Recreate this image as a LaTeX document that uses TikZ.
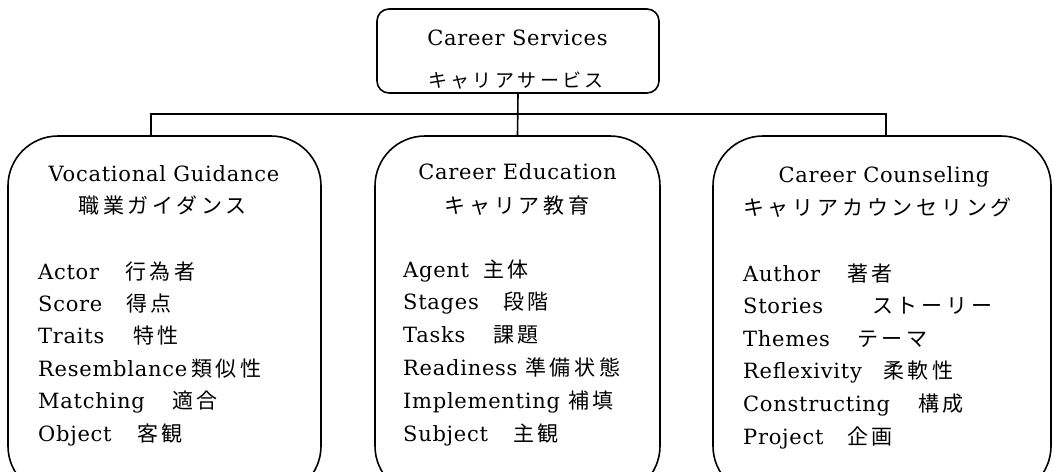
\documentclass[tikz,border=0pt]{standalone}
\usepackage{fontspec}
\setmainfont{DejaVu Serif}[LetterSpace=3.5]
\newfontfamily\jp{Noto Sans CJK JP}[LetterSpace=18]
\tikzset{
  box/.style={draw, line width=1.6pt, rounded corners=#1, inner sep=0pt},
  conn/.style={line width=1.6pt},
  eng/.style={anchor=base west, inner sep=0pt, font=\fontsize{21}{25}\selectfont},
  jpn/.style={anchor=base west, inner sep=0pt, font=\jp\fontsize{21}{25}\selectfont},
  ttl/.style={anchor=base, inner sep=0pt, font=\fontsize{21}{25}\selectfont},
  jttl/.style={anchor=base, inner sep=0pt, font=\jp\fontsize{21}{25}\selectfont},
}
\begin{document}
\begin{tikzpicture}[x=1pt,y=-1pt]
\useasboundingbox (0,0) rectangle (1054,471);
\clip (0,0) rectangle (1054,471);
% boxes
\node[box=12pt, minimum width=282pt, minimum height=84pt] (top) at (518,51) {};
\node[box=50pt, minimum width=313pt, minimum height=360pt] (L) at (164.5,316) {};
\node[box=50pt, minimum width=285pt, minimum height=360pt] (M) at (517.5,316) {};
\node[box=50pt, minimum width=338pt, minimum height=360pt] (R) at (882,316) {};
% connectors
\coordinate (bus) at (518,114);
\coordinate (jl) at (151,114);
\coordinate (jr) at (886,114);
\draw[conn] (top.south) -- (M.north);
\draw[conn] (jl |- L.north) -- (jl) -- (jr) -- (jr |- R.north);
% top text
\node[ttl] (ts) at (517.5,45) {Career Services};
\node[jttl, font=\jp\fontsize{19}{23}\selectfont] (tsj) at (516,87) {キャリアサービス};
% titles
\node[ttl] (lt) at (164,181) {Vocational Guidance};
\node[jttl] (ltj) at (162.5,213) {職業ガイダンス};
\node[ttl] (mt) at (517.5,179) {Career Education};
\node[jttl] (mtj) at (517,213) {キャリア教育};
\node[ttl] (rt) at (884,182) {Career Counseling};
\node[jttl] (rtj) at (877.5,215) {キャリアカウンセリング};
% items
\foreach \e/\j/\xj [count=\i] in {Actor/行為者/125, Score/得点/126, Traits/特性/133, Resemblance/類似性/191, Matching/適合/172, Object/客観/137}{
  \node[eng] (le\i) at (38,{279+32.4*(\i-1)}) {\e};
  \node[jpn] (lj\i) at (\xj,{279+32.4*(\i-1)}) {\j};
}
\foreach \e/\j/\xj [count=\i] in {Agent/主体/483, Stages/段階/503, Tasks/課題/493, Readiness/準備状態/525, Implementing/補填/568, Subject/主観/513}{
  \node[eng] (me\i) at (403,{277+32.8*(\i-1)}) {\e};
  \node[jpn] (mj\i) at (\xj,{277+32.8*(\i-1)}) {\j};
}
\foreach \e/\j/\xj [count=\i] in {Author/著者/847, Stories/ストーリー/872, Themes/テーマ/857, Reflexivity/柔軟性/883, Constructing/構成/918, Project/企画/847}{
  \node[eng] (re\i) at (743,{281+32.6*(\i-1)}) {\e};
  \node[jpn] (rj\i) at (\xj,{281+32.6*(\i-1)}) {\j};
}
\end{tikzpicture}
\end{document}
